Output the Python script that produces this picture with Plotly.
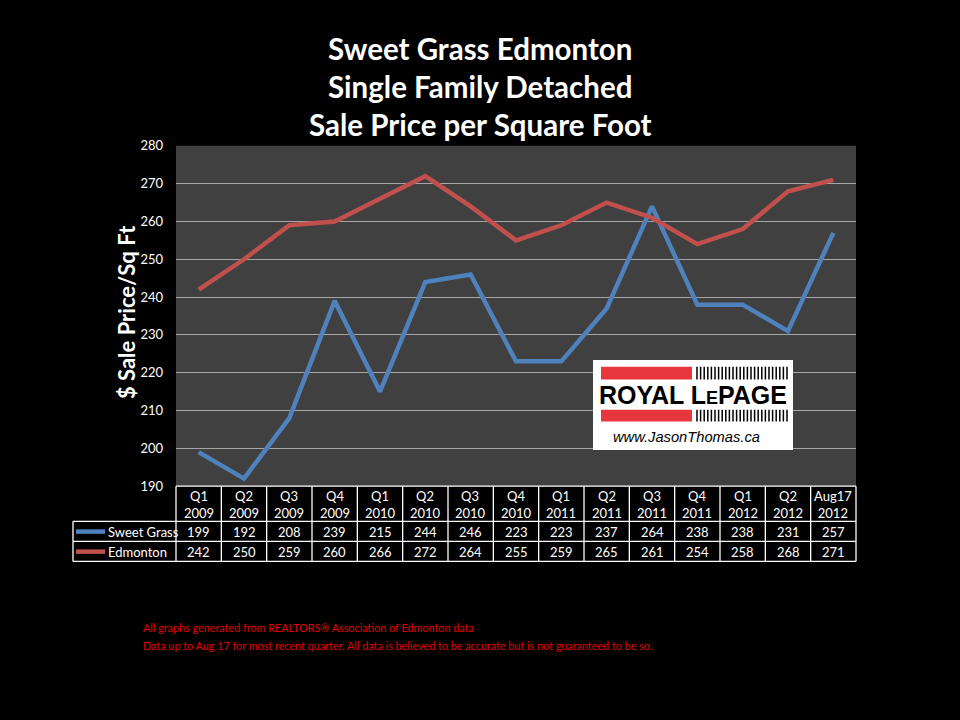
import plotly.graph_objects as go

# ---- data ----
quarters = ["Q1", "Q2", "Q3", "Q4", "Q1", "Q2", "Q3", "Q4", "Q1", "Q2", "Q3", "Q4", "Q1", "Q2", "Aug17"]
years = ["2009", "2009", "2009", "2009", "2010", "2010", "2010", "2010",
         "2011", "2011", "2011", "2011", "2012", "2012", "2012"]
sweet_grass = [199, 192, 208, 239, 215, 244, 246, 223, 223, 237, 264, 238, 238, 231, 257]
edmonton = [242, 250, 259, 260, 266, 272, 264, 255, 259, 265, 261, 254, 258, 268, 271]
series_names = ["Sweet Grass", "Edmonton"]
series_colors = ["#4f81bd", "#c0504d"]
titles = ["Sweet Grass Edmonton", "Single Family Detached", "Sale Price per Square Foot"]
y_title = "$ Sale Price/Sq Ft"
footer = ["All graphs generated from REALTORS\u00ae Association of Edmonton data",
          "Data up to Aug 17 for most recent quarter. All data is believed to be accurate but is not guaranteed to be so."]

W, H = 960, 720
FONT = "Lato"


def px(x):
    return x / W


def py(y):
    return 1 - y / H


# plot area in pixels
L, R, T, B = 176, 856, 141, 489
idx = list(range(len(quarters)))

fig = go.Figure()
for name, vals, col in zip(series_names, [sweet_grass, edmonton], series_colors):
    fig.add_trace(go.Scatter(x=idx, y=vals, mode="lines", name=name,
                             line=dict(color=col, width=4.5), hoverinfo="y"))

shapes = []
annos = []

# plot background
shapes.append(dict(type="rect", xref="paper", yref="paper", x0=px(L), x1=px(R), y0=py(B), y1=py(T),
                   fillcolor="#404040", line=dict(width=0), layer="below"))

# titles
for i, t in enumerate(titles):
    annos.append(dict(text="<b>%s</b>" % t, x=0.5, y=py(41 + 39 * i), xref="paper", yref="paper",
                      showarrow=False, font=dict(family=FONT, size=29.5, color="white"),
                      xanchor="center", yanchor="middle"))

# y-axis title
annos.append(dict(text="<b>%s</b>" % y_title, x=px(126), y=py(311), xref="paper", yref="paper",
                  showarrow=False, textangle=-90, font=dict(family=FONT, size=22, color="white"),
                  xanchor="center", yanchor="middle"))

# ---- data table ----
row_y = [489, 525, 545.5, 566]
tcol = "white"
shapes.append(dict(type="line", xref="paper", yref="paper", x0=px(L), x1=px(R), y0=py(row_y[0]), y1=py(row_y[0]),
                   line=dict(color=tcol, width=1.3)))
for yy in row_y[1:]:
    shapes.append(dict(type="line", xref="paper", yref="paper", x0=px(73), x1=px(R), y0=py(yy), y1=py(yy),
                       line=dict(color=tcol, width=1.3)))
shapes.append(dict(type="line", xref="paper", yref="paper", x0=px(73), x1=px(73), y0=py(row_y[1]), y1=py(row_y[3]),
                   line=dict(color=tcol, width=1.3)))
cw = (R - L) / len(quarters)
for k in range(len(quarters) + 1):
    xx = L + k * cw
    shapes.append(dict(type="line", xref="paper", yref="paper", x0=px(xx), x1=px(xx), y0=py(row_y[0]), y1=py(row_y[3]),
                       line=dict(color=tcol, width=1.3)))

cell_font = dict(family=FONT, size=13, color="white")
for i in idx:
    annos.append(dict(text=quarters[i] + "<br>" + years[i], x=i, y=py(507.5), xref="x", yref="paper",
                      showarrow=False, font=cell_font, xanchor="center", yanchor="middle"))
    annos.append(dict(text=str(sweet_grass[i]), x=i, y=py(535.5), xref="x", yref="paper",
                      showarrow=False, font=cell_font, xanchor="center", yanchor="middle"))
    annos.append(dict(text=str(edmonton[i]), x=i, y=py(556), xref="x", yref="paper",
                      showarrow=False, font=cell_font, xanchor="center", yanchor="middle"))

for name, col, yc in zip(series_names, series_colors, [535.5, 556]):
    shapes.append(dict(type="line", xref="paper", yref="paper", x0=px(76), x1=px(105), y0=py(yc), y1=py(yc),
                       line=dict(color=col, width=4.5)))
    annos.append(dict(text=name, x=px(106), y=py(yc), xref="paper", yref="paper", showarrow=False,
                      font=cell_font, xanchor="left", yanchor="middle"))

# ---- logo ----
shapes.append(dict(type="rect", xref="paper", yref="paper", x0=px(593), x1=px(793), y0=py(452), y1=py(360),
                   fillcolor="white", line=dict(width=0)))
for y0, y1 in [(367, 380), (411, 423)]:
    shapes.append(dict(type="rect", xref="paper", yref="paper", x0=px(601), x1=px(692), y0=py(y1), y1=py(y0),
                       fillcolor="#e8363e", line=dict(width=0)))
    path = ""
    n = 26
    for k in range(n):
        xx = 697 + k * (90 / (n - 1))
        path += "M %.5f %.5f L %.5f %.5f " % (px(xx), py(y0), px(xx), py(y1))
    shapes.append(dict(type="path", xref="paper", yref="paper", path=path, line=dict(color="black", width=1.5)))
annos.append(dict(text="<b>ROYAL L<span style='font-size:18px'>E</span>PAGE</b>", x=px(693), y=py(396),
                  xref="paper", yref="paper", showarrow=False,
                  font=dict(family="Liberation Sans", size=25, color="black"), xanchor="center", yanchor="middle"))
annos.append(dict(text="<i>www.JasonThomas.ca</i>", x=px(686.5), y=py(439), xref="paper", yref="paper",
                  showarrow=False, font=dict(family="Liberation Sans", size=14.7, color="black"),
                  xanchor="center", yanchor="middle"))

# footer
for i, t in enumerate(footer):
    annos.append(dict(text=t, x=px(141), y=py(634 + 18 * i), xref="paper", yref="paper", showarrow=False,
                      font=dict(family=FONT, size=10.8, color="#e00000"), xanchor="left", yanchor="middle"))

fig.update_layout(
    width=W, height=H, margin=dict(l=0, r=0, t=0, b=0),
    paper_bgcolor="black", plot_bgcolor="rgba(0,0,0,0)",
    showlegend=False, shapes=shapes, annotations=annos,
    xaxis=dict(domain=[px(L), px(R)], range=[-0.5, len(quarters) - 0.5], showgrid=False,
               showticklabels=False, zeroline=False, showline=False, fixedrange=True),
    yaxis=dict(domain=[py(B), py(T)], range=[190, 280], dtick=10, showgrid=True, gridcolor="#a6a6a6",
               gridwidth=1, zeroline=False, showline=False, ticks="",
               tickfont=dict(family=FONT, size=13, color="white"), ticklabelstandoff=12, fixedrange=True),
)

fig.write_html("out.html", config={"displayModeBar": False},
               post_script="document.body.style.margin='0';document.body.style.background='black';")
